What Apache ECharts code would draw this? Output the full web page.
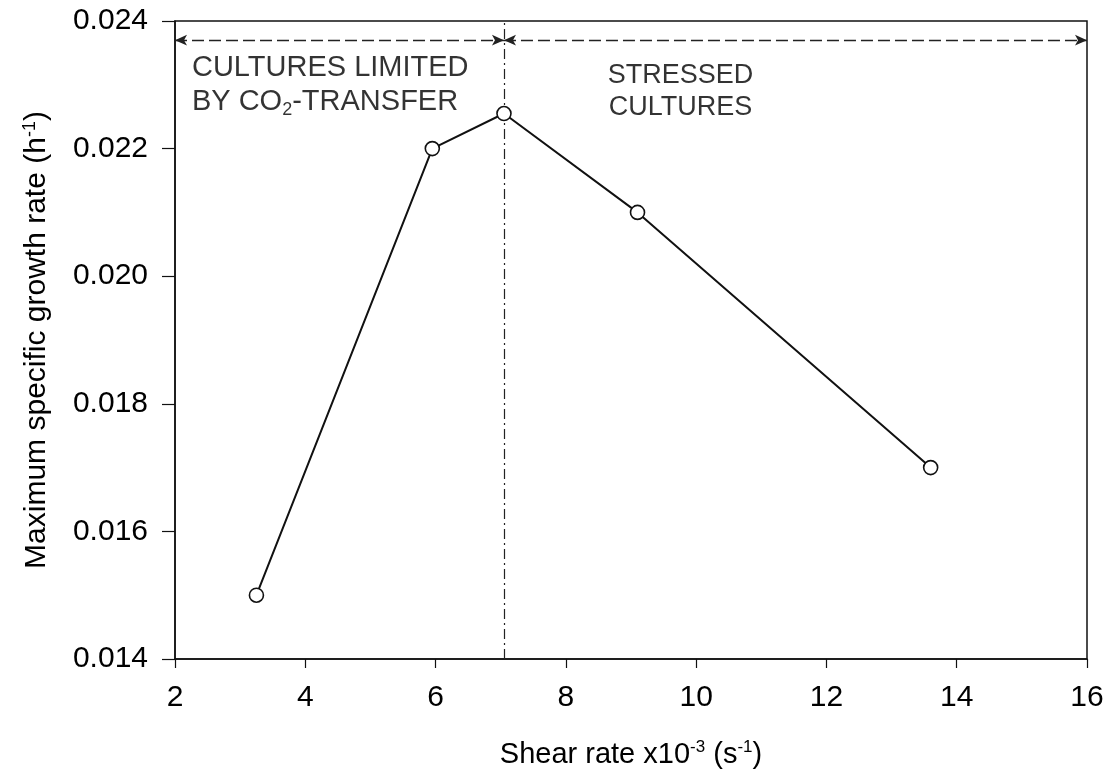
<!DOCTYPE html>
<html>
<head>
<meta charset="utf-8">
<script src="https://cdn.jsdelivr.net/npm/echarts@6/dist/echarts.min.js"></script>
<style>
html,body{margin:0;padding:0;background:#fff;}
#chart{width:1110px;height:776px;}
</style>
</head>
<body>
<div id="chart"></div>
<script>
// ---- data ----
const shearRate = [3.25, 5.95, 7.05, 9.1, 13.6];
const growthRate = [0.0150, 0.0220, 0.02255, 0.0210, 0.0170];
const xRange = [2, 16, 2];          // min, max, interval
const yRange = [0.014, 0.024, 0.002];
const regionBoundary = 7.05;
const arrowLevel = 0.0237;
const leftRegionLabel = ['CULTURES LIMITED', 'BY CO{sub|2}-TRANSFER'];
const rightRegionLabel = ['STRESSED', 'CULTURES'];
const leftLabelAnchor = [2.26, 0.02300];
const rightLabelAnchor = [9.76, 0.02290];

const FONT = 'Liberation Sans, Arial, sans-serif';

const chart = echarts.init(document.getElementById('chart'));
chart.setOption({
  animation: false,
  backgroundColor: '#fff',
  grid: {left: 175, right: 23, top: 21, bottom: 117, show: true, borderColor: '#111', borderWidth: 1.5, backgroundColor: 'transparent'},
  xAxis: {
    type: 'value', min: xRange[0], max: xRange[1], interval: xRange[2],
    axisLine: {lineStyle: {color: '#111', width: 1.5}},
    axisTick: {show: true, inside: false, length: 9, lineStyle: {color: '#111', width: 1.2}},
    axisLabel: {color: '#000', fontFamily: FONT, fontSize: 30, margin: 24},
    splitLine: {show: false},
    name: 'Shear rate x10{sup|-3} (s{sup|-1})',
    nameLocation: 'middle', nameGap: 80,
    nameTextStyle: {color: '#000', fontFamily: FONT, fontSize: 29,
      rich: {sup: {fontSize: 17, verticalAlign: 'top', padding: [0,0,14,0], fontFamily: FONT, color: '#000'}}}
  },
  yAxis: {
    type: 'value', min: yRange[0], max: yRange[1], interval: yRange[2],
    axisLine: {show: true, lineStyle: {color: '#111', width: 1.5}},
    axisTick: {show: true, inside: false, length: 13, lineStyle: {color: '#111', width: 1.2}},
    axisLabel: {color: '#000', fontFamily: FONT, fontSize: 30, margin: 27, formatter: v => v.toFixed(3)},
    splitLine: {show: false},
    name: 'Maximum specific growth rate (h{sup|-1})',
    nameLocation: 'middle', nameGap: 122, nameRotate: 90,
    nameTextStyle: {color: '#000', fontFamily: FONT, fontSize: 30,
      rich: {sup: {fontSize: 18, verticalAlign: 'top', padding: [0,0,14,0], fontFamily: FONT, color: '#000'}}}
  },
  series: [
    {
      type: 'line',
      data: shearRate.map((x, i) => [x, growthRate[i]]),
      symbol: 'circle', symbolSize: 14,
      lineStyle: {color: '#111', width: 2},
      itemStyle: {color: '#fff', borderColor: '#111', borderWidth: 1.6},
      z: 5,
      markLine: {
        silent: true,
        symbol: ['arrow', 'arrow'], symbolSize: [8, 12],
        label: {show: false},
        lineStyle: {color: '#222', width: 1.4, type: [12, 5]},
        data: [
          [{coord: [xRange[0], arrowLevel]}, {coord: [regionBoundary, arrowLevel]}],
          [{coord: [regionBoundary, arrowLevel]}, {coord: [xRange[1], arrowLevel]}],
          [{coord: [regionBoundary, yRange[0]], symbol: 'none', lineStyle: {type: [10, 4, 2, 4], width: 1.2}},
           {coord: [regionBoundary, yRange[1]], symbol: 'none'}]
        ]
      }
    },
    {
      type: 'scatter', symbolSize: 0, silent: true,
      data: [leftLabelAnchor],
      label: {show: true, position: 'right', distance: 0, color: '#000',
        fontFamily: FONT, fontSize: 29, lineHeight: 34,
        formatter: leftRegionLabel.join('\n'),
        rich: {sub: {fontSize: 18, verticalAlign: 'bottom', padding: [14,0,0,0], fontFamily: FONT, color: '#000'}}}
    },
    {
      type: 'scatter', symbolSize: 0, silent: true,
      data: [rightLabelAnchor],
      label: {show: true, position: 'inside', color: '#000', align: 'center',
        fontFamily: FONT, fontSize: 27, lineHeight: 32,
        formatter: rightRegionLabel.join('\n')}
    }
  ]
});
</script>
</body>
</html>
